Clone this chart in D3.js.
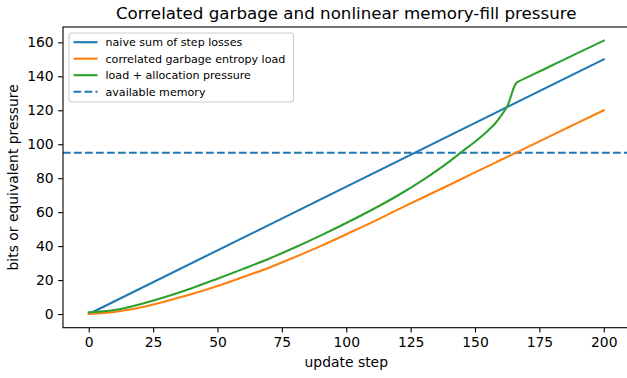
<!DOCTYPE html>
<html lang="en">

<head>
    <meta charset="UTF-8">
    <title>Correlated garbage and nonlinear memory-fill pressure</title>
    <script src="https://d3js.org/d3.v7.min.js"></script>
    <style>
        body,
        html {
            margin: 0;
            background: white;
        }

        svg text {
            font-family: "DejaVu Sans", sans-serif;
            fill: #000;
        }
    </style>
</head>

<body>
    <svg id="chart"></svg>

    <script>
        // values
        const naiveSteps = [1, 200];
        const naiveValues = [0.75, 150];

        const loadSteps = [0, 10, 20, 30, 40, 50, 60, 70, 80, 90, 100, 110, 120, 130, 140, 150, 160, 170, 180, 190, 200];
        const loadValues = [0, 1.2, 3.8, 7.5, 11.8, 16.5, 21.8, 27.3, 33.5, 40, 47, 54, 61.5, 68.8, 76, 83.4, 90.7, 98, 105.4, 112.7, 120];

        const pressureSteps = [0, 10, 20, 30, 40, 50, 60, 70, 80, 90, 100, 110, 120, 130, 140, 145, 150, 155, 158, 160, 162, 163, 164, 165, 166, 167, 170, 180, 190, 200];
        const pressureValues = [1, 2.4, 5.8, 10.2, 15.2, 20.8, 26.6, 32.6, 39.2, 46.2, 53.6, 61.4, 69.8, 79.2, 89.8, 95.7, 101.5, 108, 112.5, 116.5, 121, 124, 128.5, 133, 136, 137, 139.2, 146.5, 153.8, 161];

        const memoryLimit = 95;

        const xTicks = [0, 25, 50, 75, 100, 125, 150, 175, 200];
        const yTicks = [0, 20, 40, 60, 80, 100, 120, 140, 160];

        const seriesNames = ["naive sum of step losses", "correlated garbage entropy load", "load + allocation pressure", "available memory"];
        const seriesColors = ["#1f77b4", "#ff7f0e", "#2ca02c", "#1f77b4"];

        const svgWidth = 627, svgHeight = 378;
        const margin = { top: 27, left: 63, right: 629.5, bottom: 327.7 };

        const svg = d3.select("#chart")
            .attr("width", svgWidth)
            .attr("height", svgHeight);

        const x = d3.scaleLinear().domain([-10, 210]).range([margin.left, margin.right]);
        const y = d3.scaleLinear().domain([-8.05, 169.05]).range([margin.bottom, margin.top]);

        const tickLen = 4.86;

        // x axis
        const xAxis = svg.append("g")
            .attr("transform", `translate(0, ${margin.bottom})`)
            .call(d3.axisBottom(x).tickValues(xTicks).tickSize(tickLen).tickPadding(4.5).tickSizeOuter(0));
        xAxis.select(".domain").remove();
        xAxis.selectAll("line").attr("stroke", "#000").attr("stroke-width", 1.1);
        xAxis.selectAll("text").attr("font-size", 13.9);

        // y axis
        const yAxis = svg.append("g")
            .attr("transform", `translate(${margin.left}, 0)`)
            .call(d3.axisLeft(y).tickValues(yTicks).tickSize(tickLen).tickPadding(4.5).tickSizeOuter(0));
        yAxis.select(".domain").remove();
        yAxis.selectAll("line").attr("stroke", "#000").attr("stroke-width", 1.1);
        yAxis.selectAll("text").attr("font-size", 13.9);

        const line = d3.line()
            .curve(d3.curveMonotoneX)
            .x(d => x(d[0]))
            .y(d => y(d[1]));

        const plot = svg.append("g");

        // available memory
        plot.append("line")
            .attr("x1", margin.left)
            .attr("x2", margin.right)
            .attr("y1", y(memoryLimit))
            .attr("y2", y(memoryLimit))
            .attr("stroke", seriesColors[3])
            .attr("stroke-width", 2.08)
            .attr("stroke-dasharray", "7.7,3.3");

        const series = [
            d3.zip(naiveSteps, naiveValues),
            d3.zip(loadSteps, loadValues),
            d3.zip(pressureSteps, pressureValues)
        ];

        series.forEach((s, i) => {
            plot.append("path")
                .datum(s)
                .attr("fill", "none")
                .attr("stroke", seriesColors[i])
                .attr("stroke-width", 2.08)
                .attr("stroke-linejoin", "round")
                .attr("stroke-linecap", "square")
                .attr("d", line);
        });

        // spines
        svg.append("rect")
            .attr("x", margin.left)
            .attr("y", margin.top)
            .attr("width", margin.right - margin.left)
            .attr("height", margin.bottom - margin.top)
            .attr("fill", "none")
            .attr("stroke", "#000")
            .attr("stroke-width", 1.1);

        // legend
        const legend = svg.append("g").attr("transform", "translate(69, 33)");
        legend.append("rect")
            .attr("width", 224.5)
            .attr("height", 69)
            .attr("rx", 3)
            .attr("fill", "white")
            .attr("fill-opacity", 0.8)
            .attr("stroke", "#cccccc")
            .attr("stroke-width", 1.1);

        const items = legend.selectAll(".item")
            .data(seriesNames)
            .enter().append("g")
            .attr("class", "item")
            .attr("transform", (d, i) => `translate(0, ${9.2 + i * 16.5})`);

        items.append("line")
            .attr("x1", 4.5)
            .attr("x2", 28.5)
            .attr("stroke", (d, i) => seriesColors[i])
            .attr("stroke-width", 2.08)
            .attr("stroke-dasharray", (d, i) => i === 3 ? "7.7,3.3" : null);

        items.append("text")
            .attr("x", 36.5)
            .attr("dy", "0.36em")
            .attr("font-size", 11.1)
            .text(d => d);

        // title and axis labels
        svg.append("text")
            .attr("x", (margin.left + margin.right) / 2)
            .attr("y", 19)
            .attr("text-anchor", "middle")
            .attr("font-size", 16.7)
            .text("Correlated garbage and nonlinear memory-fill pressure");

        svg.append("text")
            .attr("x", (margin.left + margin.right) / 2)
            .attr("y", 367)
            .attr("text-anchor", "middle")
            .attr("font-size", 13.9)
            .text("update step");

        svg.append("text")
            .attr("transform", `translate(18, ${(margin.top + margin.bottom) / 2}) rotate(-90)`)
            .attr("text-anchor", "middle")
            .attr("font-size", 13.9)
            .text("bits or equivalent pressure");
    </script>
</body>

</html>
